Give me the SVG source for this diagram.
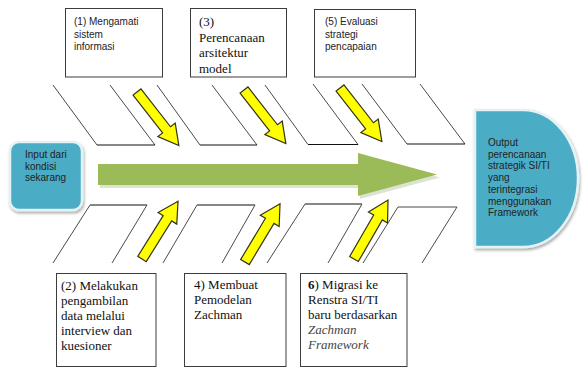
<svg xmlns="http://www.w3.org/2000/svg" xmlns:xlink="http://www.w3.org/1999/xlink" width="585" height="368" viewBox="0 0 585 368">
<style>
.box{fill:#fff;stroke:#3c3c3c;stroke-width:1}
.rib{stroke:#4a4a4a;stroke-width:1;fill:none}
.base{stroke:#111;stroke-width:1.2;fill:none}
.ya{fill:#ffff00;stroke:#33331a;stroke-width:1.2;stroke-linejoin:miter}
.sans{font-family:"Liberation Sans",Arial,sans-serif;font-size:10px;fill:#222}
.serif{font-family:"Liberation Serif","Times New Roman",serif;font-size:13px;fill:#111}
.blue{fill:#4bacc6;stroke:#e4f2f6;stroke-width:2.5}
</style>
<defs>
<polygon id="yarrow" points="0,-5 48,-5 48,-11 68,0 48,11 48,5 0,5"/>
<filter id="sh" x="-20%" y="-20%" width="140%" height="140%">
<feGaussianBlur in="SourceAlpha" stdDeviation="1.5"/>
<feOffset dx="1" dy="2" result="b"/>
<feComponentTransfer><feFuncA type="linear" slope="0.35"/></feComponentTransfer>
<feMerge><feMergeNode/><feMergeNode in="SourceGraphic"/></feMerge>
</filter>
</defs>
<rect width="585" height="368" fill="#fff"/>

<g id="connectors">
<line class="rib" x1="53" y1="85" x2="97" y2="145"/>
<line class="rib" x1="110" y1="85" x2="155" y2="145"/>
<line class="base" x1="97" y1="145" x2="155" y2="145"/>
<line class="rib" x1="157" y1="85" x2="200" y2="145"/>
<line class="rib" x1="212" y1="85" x2="257" y2="145"/>
<line class="base" x1="200" y1="145" x2="257" y2="145"/>
<line class="rib" x1="265" y1="85" x2="308" y2="144.5"/>
<line class="rib" x1="313" y1="84" x2="358" y2="144.5"/>
<line class="base" x1="308" y1="144.5" x2="358" y2="144.5"/>
<line class="rib" x1="362" y1="84" x2="407" y2="144"/>
<line class="rib" x1="420" y1="84" x2="465" y2="144"/>
<line class="base" x1="407" y1="144" x2="465" y2="144"/>

<line class="base" x1="90" y1="205" x2="147" y2="205"/>
<line class="rib" x1="90" y1="205" x2="53" y2="263"/>
<line class="rib" x1="147" y1="205" x2="112" y2="263"/>
<line class="base" x1="197" y1="205" x2="255" y2="205"/>
<line class="rib" x1="197" y1="205" x2="163" y2="263"/>
<line class="rib" x1="255" y1="205" x2="222" y2="263"/>
<line class="base" x1="305" y1="204" x2="362" y2="204"/>
<line class="rib" x1="305" y1="204" x2="267" y2="263"/>
<line class="rib" x1="362" y1="204" x2="328" y2="263"/>
<line class="rib" x1="398" y1="207" x2="457" y2="207"/>
<line class="rib" x1="398" y1="207" x2="363" y2="263"/>
<line class="rib" x1="457" y1="207" x2="422" y2="263"/>

<polygon points="100,167 360,167 360,156 440,177.5 360,199 360,188 100,188" fill="#dde3d2"/>
<polygon points="98,164 358,164 358,153 437,174.5 358,196 358,185 98,185" fill="#9bbb59"/>

<use xlink:href="#yarrow" class="ya" transform="translate(137,92) rotate(52)"/>
<use xlink:href="#yarrow" class="ya" transform="translate(244,90) rotate(52)"/>
<use xlink:href="#yarrow" class="ya" transform="translate(340,88) rotate(52)"/>
<use xlink:href="#yarrow" class="ya" transform="translate(142,259) rotate(-58)"/>
<use xlink:href="#yarrow" class="ya" transform="translate(245,262) rotate(-59)"/>
<use xlink:href="#yarrow" class="ya" transform="translate(354,259) rotate(-60)"/>
</g>

<g id="input">
<rect class="blue" x="10" y="142" width="72" height="68" rx="9" filter="url(#sh)"/>
<text class="sans" font-size="9" x="25"><tspan x="25" y="158">Input dari</tspan><tspan x="25" y="169.5">kondisi</tspan><tspan x="25" y="181">sekarang</tspan></text>
</g>

<g id="output">
<path class="blue" d="M475,110 H523 A55,68.5 0 0 1 523,247 H475 Z" filter="url(#sh)"/>
<text class="sans" font-size="9.3" fill="#1a1a1a"><tspan x="488" y="146">Output</tspan><tspan x="488" y="157.7">perencanaan</tspan><tspan x="488" y="169.4">strategik SI/TI</tspan><tspan x="488" y="181.1">yang</tspan><tspan x="488" y="192.8">terintegrasi</tspan><tspan x="488" y="204.5">menggunakan</tspan><tspan x="488" y="216.2">Framework</tspan></text>
</g>

<g id="step1">
<rect class="box" x="65.5" y="8.5" width="97" height="68.5"/>
<text class="sans"><tspan x="74" y="25">(1) Mengamati</tspan><tspan x="74" y="37.5">sistem</tspan><tspan x="74" y="50">informasi</tspan></text>
</g>

<g id="step3">
<rect class="box" x="190.5" y="8.5" width="96" height="68.5"/>
<text class="serif"><tspan x="199" y="26">(3)</tspan><tspan x="199" y="41.5">Perencanaan</tspan><tspan x="199" y="57">arsitektur</tspan><tspan x="199" y="72.5">model</tspan></text>
</g>

<g id="step5">
<rect class="box" x="314.5" y="9.5" width="101" height="67.5"/>
<text class="sans"><tspan x="325" y="25">(5) Evaluasi</tspan><tspan x="325" y="37.5">strategi</tspan><tspan x="325" y="50">pencapaian</tspan></text>
</g>

<g id="step2">
<rect class="box" x="56.5" y="273.5" width="99.5" height="93"/>
<text class="serif" font-size="14"><tspan x="61" y="290">(2)  Melakukan</tspan><tspan x="61" y="305">pengambilan</tspan><tspan x="61" y="320">data melalui</tspan><tspan x="61" y="335">interview dan</tspan><tspan x="61" y="350">kuesioner</tspan></text>
</g>

<g id="step4">
<rect class="box" x="184.5" y="273.5" width="101.5" height="93"/>
<text class="serif" font-size="12.5" fill="#333"><tspan x="194" y="289">4) Membuat</tspan><tspan x="194" y="304">Pemodelan</tspan><tspan x="194" y="319">Zachman</tspan></text>
</g>

<g id="step6">
<rect class="box" x="300.5" y="273.5" width="106.5" height="93"/>
<text class="serif" font-size="12" fill="#222"><tspan x="308" y="289"><tspan font-weight="bold">6</tspan>) Migrasi ke</tspan><tspan x="308" y="304">Renstra SI/TI</tspan><tspan x="308" y="319">baru berdasarkan</tspan><tspan x="308" y="334" font-style="italic" fill="#444">Zachman</tspan><tspan x="308" y="349" font-style="italic" fill="#444">Framework</tspan></text>
</g>
</svg>
